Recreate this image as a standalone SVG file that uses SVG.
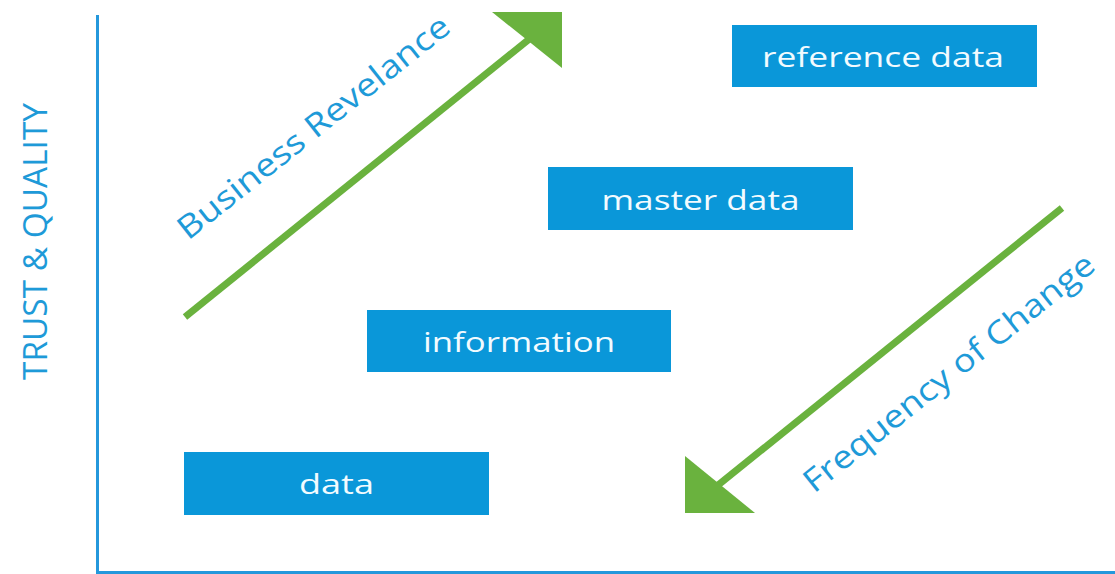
<svg xmlns="http://www.w3.org/2000/svg" width="1115" height="574" viewBox="0 0 1115 574">
  <style>
    .axis { stroke: #2498DC; stroke-width: 3; fill: none; }
    .box { fill: #0A97D9; }
    .box-label { font-family: "Open Sans", "Liberation Sans", sans-serif; font-size: 28px; fill: #F2FBFF; text-anchor: middle; }
    .axis-label { font-family: "Open Sans", "Liberation Sans", sans-serif; font-size: 33px; fill: #1E9AD8; }
    .trend-label { font-family: "Open Sans", "Liberation Sans", sans-serif; font-size: 32px; fill: #1E9AD8; }
    .trend { stroke: #6AB23E; stroke-width: 7; fill: none; }
    .head { fill: #6AB23E; }
  </style>

  <rect width="1115" height="574" fill="#FFFFFF"/>

  <!-- axes -->
  <g id="axes">
    <line class="axis" x1="97.5" y1="15" x2="97.5" y2="574"/>
    <line class="axis" x1="96" y1="572.5" x2="1115" y2="572.5"/>
    <text class="axis-label" transform="translate(47 380) rotate(-90)" textLength="277" lengthAdjust="spacingAndGlyphs">TRUST &amp; QUALITY</text>
  </g>

  <!-- trend arrows -->
  <g id="connectors">
    <g id="business-relevance">
      <line class="trend" x1="185" y1="317" x2="538" y2="32"/>
      <polygon class="head" points="492,12 562,12 562,68"/>
      <text class="trend-label" transform="translate(188 241) rotate(-38.5)" textLength="338" lengthAdjust="spacingAndGlyphs">Business Revelance</text>
    </g>
    <g id="frequency-of-change">
      <line class="trend" x1="1062" y1="208" x2="707" y2="494"/>
      <polygon class="head" points="685,456 685,513 755,513"/>
      <text class="trend-label" transform="translate(814 494) rotate(-38.5)" textLength="362" lengthAdjust="spacingAndGlyphs">Frequency of Change</text>
    </g>
  </g>

  <!-- data tiers -->
  <g id="reference-data">
    <rect class="box" x="732" y="25" width="305" height="62"/>
    <text class="box-label" x="883" y="67" textLength="242" lengthAdjust="spacingAndGlyphs">reference data</text>
  </g>
  <g id="master-data">
    <rect class="box" x="548" y="167" width="305" height="63"/>
    <text class="box-label" x="700.5" y="210" textLength="198" lengthAdjust="spacingAndGlyphs">master data</text>
  </g>
  <g id="information">
    <rect class="box" x="367" y="310" width="304" height="62"/>
    <text class="box-label" x="519" y="352" textLength="192" lengthAdjust="spacingAndGlyphs">information</text>
  </g>
  <g id="data">
    <rect class="box" x="184" y="452" width="305" height="63"/>
    <text class="box-label" x="336.5" y="494" textLength="75" lengthAdjust="spacingAndGlyphs">data</text>
  </g>
</svg>
